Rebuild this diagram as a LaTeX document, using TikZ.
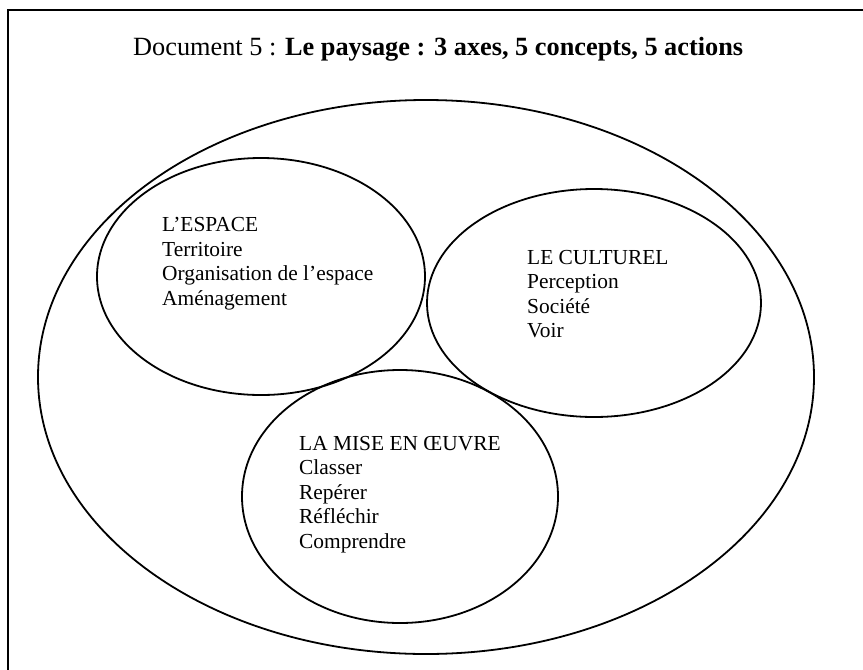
\documentclass[tikz,border=0pt]{standalone}
\usepackage{fontspec}
\setmainfont{Liberation Serif}
\usetikzlibrary{shapes.geometric}
\tikzset{
  zone/.style={draw, ellipse, line width=1.8pt, inner sep=0pt},
  liste/.style={anchor=base west, align=left, inner sep=0pt, font=\fontsize{21.4}{24.4}\selectfont}
}
\begin{document}
\begin{tikzpicture}[x=1pt,y=-1pt]
  \useasboundingbox (0,0) rectangle (863,670);
  % cadre ouvert en bas et a droite
  \draw[line width=2pt] (8,670) -- (8,10) -- (863,10);
  \node[anchor=base west, inner sep=0pt, font=\fontsize{26.3}{30}\selectfont] (titre) at (133,55)
    {Document 5 : \textbf{Le paysage : 3 axes, 5 concepts, 5 actions}};
  % les ellipses
  \node[zone, minimum width=776pt, minimum height=554pt] (paysage) at (426,377) {};
  \node[zone, minimum width=328pt, minimum height=237pt] (espace) at (261,276.5) {};
  \node[zone, minimum width=334pt, minimum height=228pt] (culturel) at (594,303) {};
  \node[zone, minimum width=316pt, minimum height=253pt] (oeuvre) at (400,496.5) {};
  % les textes (base = ligne du bas)
  \node[liste] (txtespace) at (162,305)
    {L’ESPACE\\Territoire\\Organisation de l’espace\\Aménagement};
  \node[liste] (txtculturel) at (527,337.7)
    {LE CULTUREL\\Perception\\Société\\Voir};
  \node[liste] (txtoeuvre) at (299,548)
    {LA MISE EN ŒUVRE\\Classer\\Repérer\\Réfléchir\\Comprendre};
\end{tikzpicture}
\end{document}
